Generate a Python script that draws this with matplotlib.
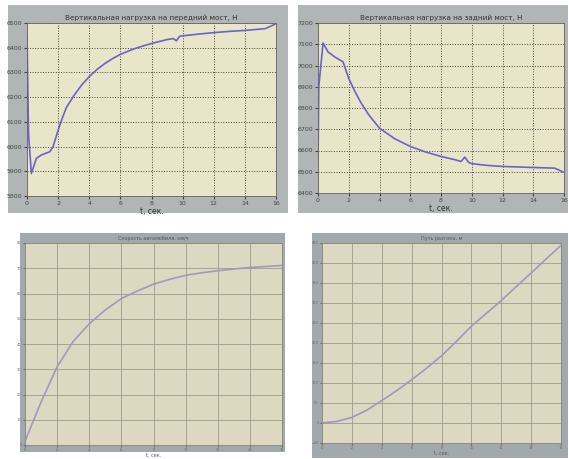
import matplotlib

matplotlib.use("Agg")
import matplotlib.pyplot as plt  # noqa: E402
from matplotlib.patches import Rectangle  # noqa: E402

# ---- data -------------------------------------------------------------------
t_front = [0.0, 0.1, 0.28, 0.6, 0.92, 1.46, 1.67, 2.0, 2.25, 2.53, 3.0, 3.5, 4.0,
           4.5, 5.0, 5.5, 6.0, 6.5, 7.0, 7.5, 8.0, 8.5, 9.0, 9.4, 9.6, 9.8, 10.0,
           11.0, 12.0, 13.0, 14.0, 15.3, 16.0]
load_front = [6457, 6050, 5891, 5952, 5966, 5979, 5999, 6066, 6112, 6158, 6205,
              6248, 6283, 6312, 6336, 6356, 6373, 6386, 6398, 6408, 6417, 6425,
              6433, 6437, 6428, 6446, 6448, 6455, 6461, 6466, 6470, 6477, 6497]

t_rear = [0.0, 0.05, 0.33, 0.65, 1.08, 1.63, 2.0, 2.4, 2.8, 3.3, 4.0, 5.0, 6.0,
          7.0, 8.0, 9.0, 9.3, 9.55, 9.8, 10.0, 11.0, 12.0, 14.0, 15.4, 16.0]
load_rear = [6541, 6900, 7106, 7064, 7041, 7017, 6939, 6878, 6824, 6768, 6705,
             6655, 6619, 6593, 6572, 6555, 6548, 6569, 6544, 6538, 6530, 6525,
             6520, 6517, 6497]

t_speed = [0, 1, 2, 3, 4, 5, 6, 7, 8, 9, 10, 11, 12, 13, 14, 15, 16]
speed = [1.5, 17, 31, 41, 48, 53.5, 58, 61, 63.7, 65.6, 67.2, 68.2, 69, 69.7,
         70.3, 70.7, 71.1]

t_path = [0, 1, 2, 3, 4, 5, 6, 7, 8, 9, 10, 11, 12, 13, 14, 15, 16]
path = [0, 4, 14, 32, 56, 81, 108, 137, 168, 204, 242, 274, 306, 341, 375, 410,
        444]

TITLES = ["Вертикальная нагрузка на передний мост, Н",
          "Вертикальная нагрузка на задний мост, Н",
          "Скорость автомобиля, км/ч",
          "Путь разгона, м"]
XLABEL = "t, сек."

W, H = 569, 459


def _px(x0, y0, x1, y1):
    return [x0 / W, (H - y1) / H, (x1 - x0) / W, (y1 - y0) / H]


fig = plt.figure(figsize=(W / 100, H / 100), dpi=100, facecolor="white")

# gray window frames behind the axes
for (x0, y0, x1, y1), c in [((8, 5, 288, 213), "#b1b5b6"),
                             ((298, 5, 568, 213), "#b1b5b6"),
                             ((20, 233, 285, 452), "#a2a9ad"),
                             ((312, 233, 568, 458), "#a2a9ad")]:
    fig.patches.append(Rectangle((x0 / W, (H - y1) / H), (x1 - x0) / W,
                                 (y1 - y0) / H, transform=fig.transFigure,
                                 facecolor=c, edgecolor="none", zorder=-10))


def top_axes(rect, t, v, ylim, title):
    ax = fig.add_axes(_px(*rect), facecolor="#e9e5c9")
    ax.plot(t, v, color="#6b63c8", lw=1.2)
    ax.set_xlim(0, 16)
    ax.set_ylim(*ylim)
    ax.set_xticks(range(0, 17, 2))
    ax.set_yticks(range(ylim[0], ylim[1] + 1, 100))
    ax.grid(True, color="#444444", ls=":", lw=0.7)
    ax.tick_params(labelsize=4.5, length=2, colors="#444444", pad=1.5)
    ax.set_title(title, fontsize=5.2, pad=2, color="#333333")
    ax.set_xlabel(XLABEL, fontsize=5.5, labelpad=1, color="#333333")
    for s in ax.spines.values():
        s.set_color("#666666")
        s.set_linewidth(0.6)
    return ax


def bottom_axes(rect, t, v, ylim, ystep, title):
    ax = fig.add_axes(_px(*rect), facecolor="#dcd9c0")
    ax.plot(t, v, color="#a396c4", lw=1.2)
    ax.set_xlim(0, 16)
    ax.set_ylim(*ylim)
    ax.set_xticks(range(0, 17, 2))
    ax.set_yticks(range(ylim[0], ylim[1] + 1, ystep))
    ax.grid(True, color="#9a9a90", ls="-", lw=0.6)
    ax.tick_params(labelsize=2.5, length=1.5, colors="#666666", pad=1)
    ax.set_title(title, fontsize=3.5, pad=2, color="#555555")
    ax.set_xlabel(XLABEL, fontsize=3.5, labelpad=0.5, color="#555555")
    for s in ax.spines.values():
        s.set_color("#888888")
        s.set_linewidth(0.6)
    return ax


top_axes((27, 23, 276, 196), t_front, load_front, (5800, 6500), TITLES[0])
top_axes((318, 23, 564, 193), t_rear, load_rear, (6400, 7200), TITLES[1])
bottom_axes((25, 243, 282, 445), t_speed, speed, (0, 80), 10, TITLES[2])
bottom_axes((322, 243, 561, 443), t_path, path, (-50, 450), 50, TITLES[3])

fig.savefig("out.png", dpi=100, facecolor="white")
